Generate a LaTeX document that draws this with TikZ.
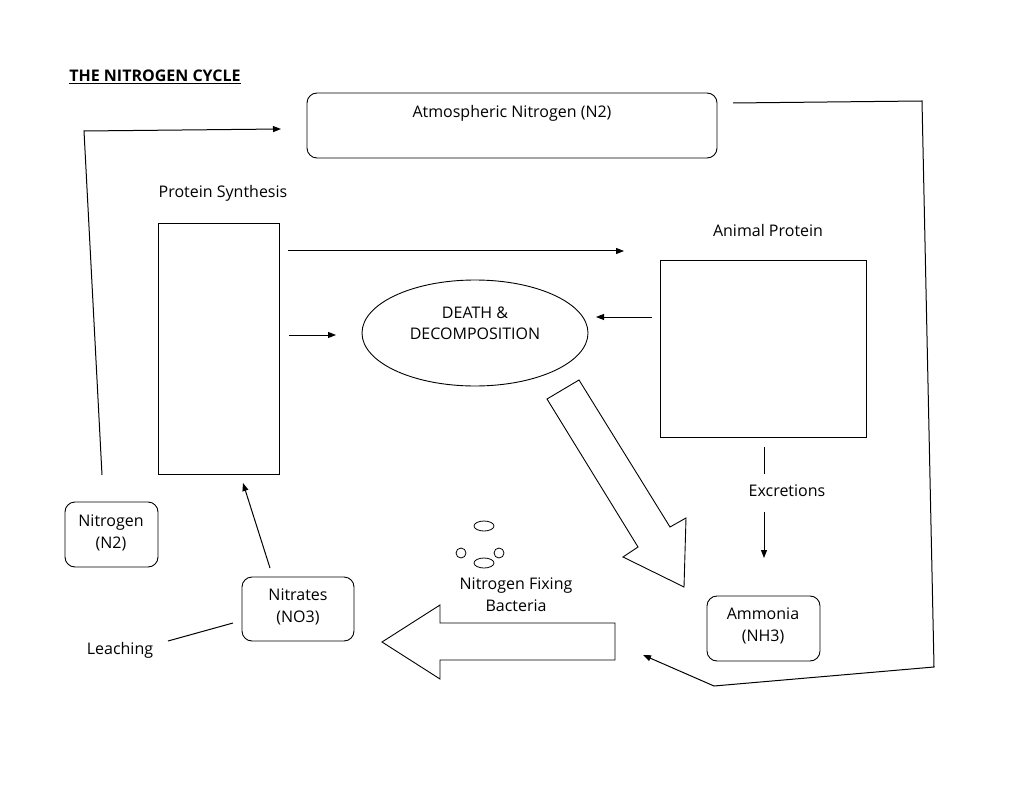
\documentclass[tikz,border=0pt]{standalone}
\usepackage{fontspec}
\setmainfont{Open Sans}
\usetikzlibrary{arrows.meta,shapes.geometric}
\begin{document}
\begin{tikzpicture}[x=1pt,y=-1pt,
  lbl/.style={font=\fontsize{16}{19}\selectfont, inner sep=0pt, align=center},
  rbox/.style={draw, rounded corners=10pt, line width=0.9pt},
  sbox/.style={draw, line width=0.9pt},
  conn/.style={line width=1pt},
  arr/.style={line width=1pt, -{Triangle[length=8pt,width=6pt]}},
  fat/.style={draw, line width=0.9pt, line join=miter}]
\useasboundingbox (0,0) rectangle (1024,791);
% title
\node[lbl, font=\fontsize{16}{19}\bfseries] (title) at (155,77) {\underline{THE NITROGEN CYCLE}};
% boxes
\draw[rbox] (307,93) rectangle (717,158);
\node[lbl] (atm) at (512,113) {Atmospheric Nitrogen (N2)};
\node[lbl] (ps) at (223,193) {Protein Synthesis};
\draw[sbox] (158,223) rectangle (279,474);
\node[lbl] (ap) at (768,231) {Animal Protein};
\draw[sbox] (660,260) rectangle (866,437);
\node[draw, ellipse, line width=0.9pt, minimum width=226pt, minimum height=106pt] (dd) at (475,333) {};
\node[lbl] (ddt) at (475,323) {DEATH \&\\[2pt]DECOMPOSITION};
\node[lbl] (exc) at (787,491) {Excretions};
\draw[rbox] (707,596) rectangle (820,661);
\node[lbl] (amm) at (763,626) {Ammonia\\[3pt](NH3)};
\draw[rbox] (65,502) rectangle (158,567);
\node[lbl] (n2) at (111,533) {Nitrogen\\[3pt](N2)};
\draw[rbox] (242,577) rectangle (354,641);
\node[lbl] (nit) at (298,607) {Nitrates\\[3pt](NO3)};
\node[lbl] (leach) at (120,650) {Leaching};
\node[lbl] (nfb) at (516,595) {Nitrogen Fixing\\[3pt]Bacteria};
% bacteria
\draw[line width=0.8pt] (484,526) ellipse (10pt and 5pt);
\draw[line width=0.8pt] (484,563) ellipse (10pt and 5pt);
\draw[line width=0.8pt] (461,553) circle (5pt);
\draw[line width=0.8pt] (499,553) circle (5pt);
% fat arrows
\draw[fat] (547,399) -- (579,380) -- (670,527) -- (686,518) -- (684,587) -- (623,557) -- (638,547) -- cycle;
\draw[fat] (382,642) -- (440,605) -- (440,623) -- (615,623) -- (615,660) -- (440,660) -- (440,679) -- cycle;
% coordinates for connectors
\coordinate (a1) at (102,475);
\coordinate (a2) at (84,131);
\coordinate (a3) at (281,129);
\coordinate (b1) at (733,103);
\coordinate (b2) at (922,101);
\coordinate (b3) at (934,667);
\coordinate (b4) at (714,686);
\coordinate (b5) at (643,655);
\coordinate (c1) at (288,251);
\coordinate (c2) at (624,251);
\coordinate (d1) at (289,335);
\coordinate (d2) at (336,335);
\coordinate (e1) at (652,317);
\coordinate (e2) at (596,317);
\coordinate (f1) at (764,447);
\coordinate (f2) at (764,474);
\coordinate (g1) at (764,512);
\coordinate (g2) at (764,558);
\coordinate (h1) at (270,568);
\coordinate (h2) at (243,483);
\coordinate (l1) at (168,641);
\coordinate (l2) at (233,623);
% connectors
\draw[arr] (a1) -- (a2) -- (a3);
\draw[arr] (b1) -- (b2) -- (b3) -- (b4) -- (b5);
\draw[arr] (c1) -- (c2);
\draw[arr] (d1) -- (d2);
\draw[arr] (e1) -- (e2);
\draw[conn] (f1) -- (f2);
\draw[arr] (g1) -- (g2);
\draw[arr] (h1) -- (h2);
\draw[conn] (l1) -- (l2);
\end{tikzpicture}
\end{document}
